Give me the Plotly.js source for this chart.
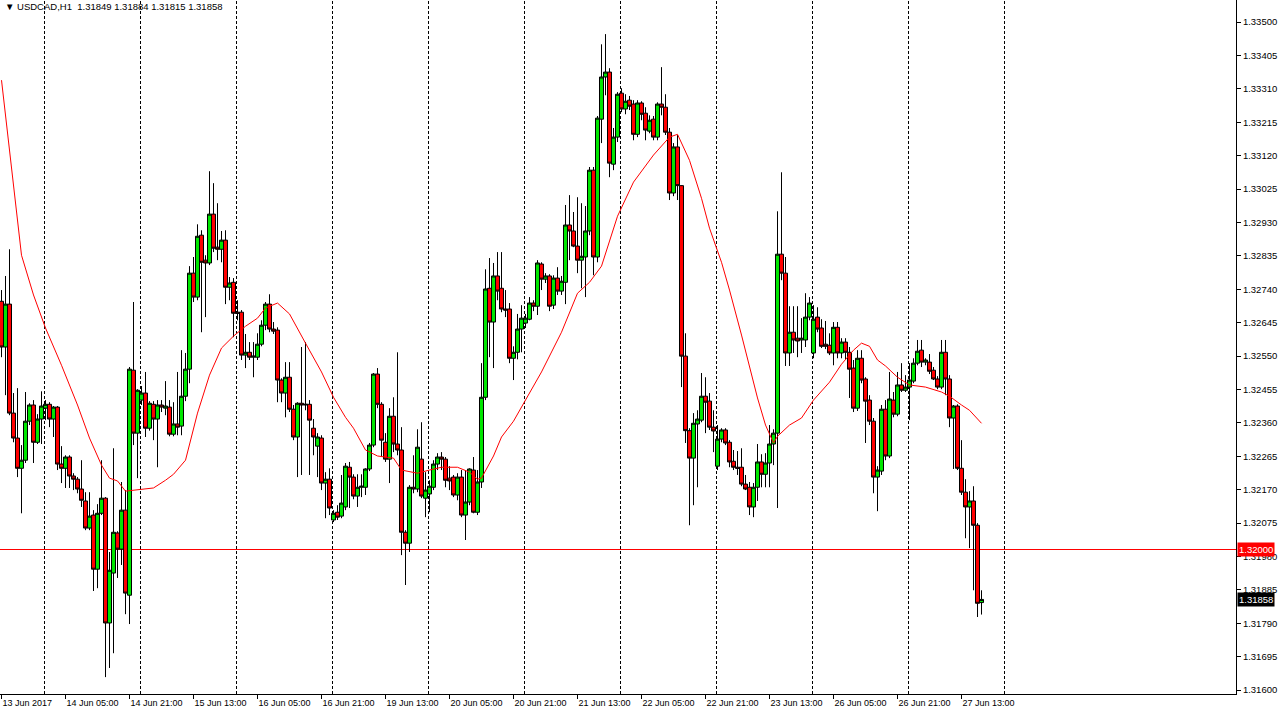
<!DOCTYPE html>
<html>
<head>
<meta charset="utf-8">
<script src="https://cdn.plot.ly/plotly-3.0.1.min.js"></script>
<style>html,body{margin:0;padding:0;background:#fff;}#chart{width:1278px;height:716px;}</style>
</head>
<body>
<div id="chart"></div>
<script>
// USDCAD H1 candles, 13 Jun 2017 13:00 .. 27 Jun 2017
const symbol = "USDCAD,H1";
const opens = [1.32706,1.32576,1.32698,1.32388,1.32317,1.32231,1.32254,1.32365,1.32411,1.32305,1.32371,1.32402,1.32413,1.32371,1.32405,1.32243,1.32231,1.32263,1.32209,1.32200,1.32172,1.32138,1.32061,1.32098,1.31944,1.32103,1.32146,1.31791,1.31933,1.32047,1.32001,1.32112,1.31870,1.32510,1.32331,1.32425,1.32445,1.32345,1.32413,1.32371,1.32411,1.32402,1.32405,1.32328,1.32357,1.32351,1.32436,1.32513,1.32786,1.32718,1.32894,1.32823,1.32815,1.32954,1.32860,1.32854,1.32880,1.32746,1.32760,1.32675,1.32675,1.32553,1.32561,1.32547,1.32547,1.32584,1.32638,1.32698,1.32627,1.32624,1.32482,1.32445,1.32490,1.32399,1.32320,1.32416,1.32411,1.32413,1.32345,1.32294,1.32317,1.32189,1.32200,1.32084,1.32106,1.32095,1.32121,1.32234,1.32206,1.32152,1.32177,1.32177,1.32229,1.32297,1.32499,1.32413,1.32305,1.32257,1.32379,1.32300,1.32283,1.32049,1.32018,1.32177,1.32172,1.32257,1.32146,1.32158,1.32177,1.32243,1.32263,1.32257,1.32203,1.32206,1.32155,1.32206,1.32098,1.32135,1.32226,1.32106,1.32192,1.32433,1.32743,1.32647,1.32778,1.32743,1.32684,1.32684,1.32544,1.32561,1.32627,1.32644,1.32655,1.32701,1.32692,1.32812,1.32769,1.32778,1.32695,1.32772,1.32735,1.32760,1.32923,1.32906,1.32863,1.32823,1.32832,1.32906,1.33079,1.32832,1.33224,1.33344,1.33358,1.33096,1.33173,1.33298,1.33253,1.33278,1.33267,1.33181,1.33270,1.33241,1.33190,1.33224,1.33173,1.33267,1.33258,1.33187,1.33014,1.33145,1.33035,1.32550,1.32338,1.32260,1.32357,1.32368,1.32436,1.32422,1.32348,1.32237,1.32314,1.32340,1.32305,1.32251,1.32234,1.32234,1.32186,1.32177,1.32121,1.32177,1.32249,1.32214,1.32246,1.32300,1.32331,1.32840,1.32786,1.32559,1.32618,1.32601,1.32596,1.32596,1.32661,1.32559,1.32661,1.32630,1.32584,1.32581,1.32559,1.32632,1.32559,1.32590,1.32561,1.32516,1.32402,1.32544,1.32485,1.32425,1.32365,1.32206,1.32223,1.32399,1.32266,1.32425,1.32385,1.32468,1.32453,1.32462,1.32479,1.32530,1.32567,1.32533,1.32533,1.32510,1.32485,1.32462,1.32561,1.32485,1.32374,1.32408,1.32231,1.32163,1.32121,1.32138,1.32069,1.31849];
const highs = [1.32738,1.32778,1.32854,1.32445,1.32459,1.32297,1.32448,1.32416,1.32425,1.32385,1.32450,1.32425,1.32419,1.32408,1.32408,1.32294,1.32268,1.32268,1.32217,1.32206,1.32254,1.32163,1.32163,1.32112,1.32129,1.32254,1.32149,1.31993,1.32288,1.32052,1.32192,1.32169,1.32519,1.32704,1.32456,1.32465,1.32505,1.32422,1.32422,1.32425,1.32425,1.32479,1.32425,1.32419,1.32505,1.32567,1.32559,1.32806,1.32832,1.32925,1.32908,1.32837,1.33076,1.33042,1.32985,1.32906,1.32908,1.32775,1.32772,1.32709,1.32681,1.32613,1.32590,1.32590,1.32615,1.32652,1.32704,1.32726,1.32647,1.32632,1.32487,1.32533,1.32533,1.32411,1.32419,1.32576,1.32590,1.32425,1.32371,1.32331,1.32325,1.32220,1.32231,1.32112,1.32126,1.32212,1.32246,1.32249,1.32214,1.32214,1.32214,1.32231,1.32303,1.32502,1.32516,1.32419,1.32331,1.32402,1.32433,1.32561,1.32348,1.32055,1.32183,1.32268,1.32342,1.32362,1.32220,1.32197,1.32254,1.32274,1.32277,1.32263,1.32237,1.32212,1.32217,1.32226,1.32226,1.32231,1.32263,1.32226,1.32530,1.32797,1.32829,1.32815,1.32846,1.32846,1.32738,1.32701,1.32578,1.32670,1.32695,1.32670,1.32718,1.32709,1.32823,1.32817,1.32786,1.32783,1.32780,1.32803,1.32778,1.32980,1.33008,1.32960,1.33002,1.32985,1.32977,1.33088,1.33088,1.33233,1.33437,1.33466,1.33369,1.33199,1.33301,1.33312,1.33295,1.33290,1.33278,1.33278,1.33275,1.33258,1.33235,1.33233,1.33272,1.33372,1.33295,1.33199,1.33156,1.33179,1.33036,1.32615,1.32345,1.32388,1.32396,1.32502,1.32490,1.32445,1.32396,1.32354,1.32345,1.32345,1.32311,1.32283,1.32280,1.32288,1.32212,1.32192,1.32189,1.32300,1.32271,1.32274,1.32354,1.32342,1.32962,1.33073,1.32832,1.32692,1.32692,1.32692,1.32658,1.32729,1.32718,1.32695,1.32689,1.32655,1.32650,1.32615,1.32647,1.32647,1.32601,1.32601,1.32576,1.32539,1.32567,1.32567,1.32490,1.32439,1.32374,1.32237,1.32411,1.32425,1.32505,1.32448,1.32505,1.32530,1.32496,1.32530,1.32544,1.32596,1.32596,1.32544,1.32556,1.32519,1.32493,1.32596,1.32596,1.32496,1.32411,1.32413,1.32311,1.32200,1.32166,1.32180,1.32075,1.31884];
const lows = [1.32547,1.32439,1.32382,1.32305,1.32206,1.32103,1.32246,1.32354,1.32246,1.32300,1.32300,1.32368,1.32348,1.32320,1.32226,1.32189,1.32175,1.32175,1.32169,1.32160,1.32121,1.32055,1.32055,1.31882,1.31890,1.32098,1.31637,1.31663,1.31705,1.31919,1.31956,1.31816,1.31788,1.32297,1.32203,1.32411,1.32320,1.32338,1.32311,1.32234,1.32391,1.32382,1.32322,1.32322,1.32325,1.32325,1.32422,1.32473,1.32704,1.32709,1.32618,1.32661,1.32809,1.32846,1.32823,1.32817,1.32698,1.32709,1.32604,1.32652,1.32539,1.32516,1.32539,1.32490,1.32539,1.32578,1.32624,1.32618,1.32613,1.32419,1.32419,1.32376,1.32391,1.32311,1.32206,1.32212,1.32396,1.32212,1.32268,1.32206,1.32169,1.32089,1.32098,1.32078,1.32084,1.32089,1.32112,1.32118,1.32143,1.32121,1.32149,1.32155,1.32223,1.32291,1.32402,1.32263,1.32249,1.32189,1.32277,1.32268,1.31984,1.31899,1.31993,1.32160,1.32163,1.32146,1.32092,1.32106,1.32169,1.32226,1.32226,1.32177,1.32169,1.32149,1.32140,1.32092,1.32027,1.32126,1.32103,1.32098,1.32175,1.32425,1.32547,1.32516,1.32709,1.32675,1.32661,1.32530,1.32482,1.32541,1.32561,1.32630,1.32652,1.32678,1.32667,1.32738,1.32758,1.32678,1.32684,1.32724,1.32724,1.32698,1.32823,1.32860,1.32786,1.32743,1.32718,1.32894,1.32780,1.32817,1.33156,1.33292,1.33059,1.33079,1.33159,1.33244,1.33238,1.33250,1.33164,1.33173,1.33221,1.33164,1.33184,1.33164,1.33164,1.33235,1.33179,1.32994,1.33005,1.32994,1.32462,1.32303,1.32069,1.32126,1.32177,1.32362,1.32331,1.32340,1.32277,1.32226,1.32305,1.32297,1.32234,1.32226,1.32212,1.32180,1.32169,1.32098,1.32092,1.32138,1.32177,1.32177,1.32177,1.32240,1.32118,1.32766,1.32522,1.32522,1.32559,1.32547,1.32559,1.32576,1.32652,1.32544,1.32618,1.32573,1.32570,1.32553,1.32524,1.32544,1.32544,1.32539,1.32431,1.32391,1.32394,1.32473,1.32303,1.32354,1.32160,1.32109,1.32212,1.32254,1.32260,1.32376,1.32379,1.32448,1.32448,1.32368,1.32473,1.32524,1.32519,1.32524,1.32499,1.32482,1.32456,1.32456,1.32439,1.32348,1.32229,1.32226,1.32155,1.32032,1.32004,1.31884,1.31808,1.31815];
const closes = [1.32576,1.32698,1.32388,1.32317,1.32231,1.32254,1.32365,1.32411,1.32305,1.32371,1.32408,1.32413,1.32371,1.32405,1.32243,1.32231,1.32263,1.32209,1.32200,1.32172,1.32140,1.32061,1.32095,1.31944,1.32103,1.32146,1.31791,1.31941,1.32049,1.32001,1.32112,1.31876,1.32513,1.32331,1.32453,1.32445,1.32345,1.32416,1.32371,1.32411,1.32405,1.32408,1.32328,1.32357,1.32348,1.32436,1.32513,1.32786,1.32718,1.32891,1.32817,1.32815,1.32954,1.32857,1.32854,1.32880,1.32746,1.32758,1.32672,1.32672,1.32553,1.32561,1.32547,1.32550,1.32584,1.32638,1.32698,1.32627,1.32621,1.32482,1.32445,1.32490,1.32399,1.32320,1.32416,1.32411,1.32413,1.32368,1.32320,1.32320,1.32189,1.32200,1.32118,1.32103,1.32092,1.32132,1.32237,1.32206,1.32152,1.32177,1.32180,1.32229,1.32297,1.32499,1.32413,1.32311,1.32257,1.32379,1.32300,1.32283,1.32049,1.32018,1.32177,1.32172,1.32291,1.32152,1.32169,1.32180,1.32243,1.32263,1.32257,1.32197,1.32195,1.32155,1.32206,1.32098,1.32135,1.32229,1.32106,1.32192,1.32433,1.32741,1.32647,1.32778,1.32735,1.32684,1.32681,1.32544,1.32561,1.32627,1.32658,1.32658,1.32701,1.32692,1.32815,1.32769,1.32778,1.32692,1.32772,1.32735,1.32763,1.32923,1.32906,1.32863,1.32823,1.32834,1.32906,1.33079,1.32832,1.33227,1.33344,1.33358,1.33099,1.33173,1.33295,1.33253,1.33275,1.33261,1.33181,1.33270,1.33238,1.33193,1.33221,1.33173,1.33267,1.33258,1.33187,1.33014,1.33145,1.33035,1.32550,1.32338,1.32260,1.32359,1.32371,1.32436,1.32419,1.32348,1.32337,1.32314,1.32340,1.32303,1.32249,1.32234,1.32231,1.32186,1.32172,1.32121,1.32177,1.32249,1.32214,1.32246,1.32300,1.32331,1.32840,1.32786,1.32559,1.32618,1.32596,1.32593,1.32601,1.32661,1.32701,1.32655,1.32627,1.32578,1.32578,1.32559,1.32632,1.32559,1.32590,1.32561,1.32513,1.32402,1.32544,1.32482,1.32422,1.32365,1.32206,1.32226,1.32399,1.32266,1.32428,1.32385,1.32468,1.32453,1.32462,1.32482,1.32530,1.32564,1.32533,1.32539,1.32507,1.32485,1.32462,1.32561,1.32485,1.32374,1.32408,1.32231,1.32163,1.32121,1.32138,1.32069,1.31847,1.31858];

// moving average line (at selected bars)
const maBars = [0,5,8,11,15,19,22,25,27,29,31,34,38,41,43,46,49,52,55,58,61,64,66,69,72,76,80,83,86,88,91,94,98,100,104,107,110,114,117,119,120,123,125,128,130,135,140,144,147,150,154,158,163,167,169,172,175,177,180,182,185,187,189,191,193,194,197,200,203,207,210,213,215,217,219,221,224,227,231,235,237,240,242,245];
const maValues = [1.33335,1.32837,1.32724,1.32630,1.32524,1.32411,1.32317,1.32240,1.32203,1.32195,1.32166,1.32169,1.32175,1.32197,1.32214,1.32254,1.32388,1.32496,1.32573,1.32607,1.32635,1.32658,1.32687,1.32701,1.32670,1.32587,1.32505,1.32433,1.32376,1.32345,1.32283,1.32266,1.32260,1.32226,1.32217,1.32226,1.32234,1.32234,1.32220,1.32200,1.32203,1.32266,1.32320,1.32365,1.32405,1.32505,1.32618,1.32729,1.32760,1.32806,1.32948,1.33045,1.33122,1.33173,1.33181,1.33107,1.32999,1.32914,1.32817,1.32738,1.32610,1.32524,1.32431,1.32354,1.32303,1.32322,1.32354,1.32374,1.32425,1.32476,1.32527,1.32567,1.32587,1.32578,1.32539,1.32522,1.32490,1.32468,1.32462,1.32448,1.32436,1.32411,1.32396,1.32359];

// axis ticks
const timeTickBars = [0,16,32,48,64,80,96,112,128,144,160,176,192,208,224,240];
const timeTickLabels = ['13 Jun 2017','14 Jun 05:00','14 Jun 21:00','15 Jun 13:00','16 Jun 05:00','16 Jun 21:00','19 Jun 13:00','20 Jun 05:00','20 Jun 21:00','21 Jun 13:00','22 Jun 05:00','22 Jun 21:00','23 Jun 13:00','26 Jun 05:00','26 Jun 21:00','27 Jun 13:00'];
const dayStartBars = [11,35,59,83,107,131,155,179,203,227,251];
const priceTicks = [1.31600,1.31695,1.31790,1.31885,1.31980,1.32075,1.32170,1.32265,1.32360,1.32455,1.32550,1.32645,1.32740,1.32835,1.32930,1.33025,1.33120,1.33215,1.33310,1.33405,1.33500];
const levelPrice = 1.32000;

const bullColor = '#00e600';
const bearColor = '#ff0000';
const FONT = 'Liberation Sans, Arial, sans-serif';

const bars = opens.map((_, i) => i);
const last = opens.length - 1;

const traces = [
  {
    type: 'candlestick', x: bars, open: opens, high: highs, low: lows, close: closes,
    increasing: {line: {color: '#000000', width: 1}, fillcolor: bullColor},
    decreasing: {line: {color: '#000000', width: 1}, fillcolor: bearColor},
    whiskerwidth: 0, hoverinfo: 'skip', showlegend: false
  },
  {
    type: 'scatter', mode: 'lines', x: maBars, y: maValues,
    line: {color: '#ff0000', width: 1}, hoverinfo: 'skip', showlegend: false
  }
];

const shapes = dayStartBars.map(b => ({
  type: 'line', xref: 'x', yref: 'paper', x0: b - 0.25, x1: b - 0.25, y0: 0, y1: 1,
  line: {color: '#000000', width: 1, dash: '3px,2px'}, layer: 'below'
}));
shapes.push({
  type: 'line', xref: 'paper', yref: 'y', x0: 0, x1: 1, y0: levelPrice, y1: levelPrice,
  line: {color: '#ff0000', width: 1}, layer: 'below'
});

const fmt = v => v.toFixed(5);
const header = '▼ ' + symbol + '\u00a0\u00a0' + [opens[last], highs[last], lows[last], closes[last]].map(fmt).join(' ');

const annotations = [
  {xref: 'paper', yref: 'paper', x: 0, y: 1, xanchor: 'left', yanchor: 'top', xshift: 3, yshift: 1,
   text: header, showarrow: false, font: {family: FONT, size: 9.5, color: '#000'}},
  {xref: 'paper', yref: 'y', x: 1, y: levelPrice, xanchor: 'left', yanchor: 'middle', xshift: 1,
   text: fmt(levelPrice), showarrow: false, bgcolor: '#ff0000', borderpad: 1,
   font: {family: FONT, size: 9.5, color: '#ffffff'}},
  {xref: 'paper', yref: 'y', x: 1, y: closes[last], xanchor: 'left', yanchor: 'middle', xshift: 1,
   text: fmt(closes[last]), showarrow: false, bgcolor: '#000000', borderpad: 1,
   font: {family: FONT, size: 9.5, color: '#ffffff'}}
];

const layout = {
  width: 1278, height: 716,
  margin: {l: 0, r: 42, t: 0, b: 22, pad: 0},
  paper_bgcolor: '#ffffff', plot_bgcolor: '#ffffff',
  showlegend: false, boxgap: 0, boxgroupgap: 0,
  xaxis: {
    range: [-0.375, 308.625], tickmode: 'array', tickvals: timeTickBars, ticktext: timeTickLabels,
    ticks: 'outside', ticklen: 4, tickcolor: '#000', showgrid: false, zeroline: false,
    showline: true, linecolor: '#000', linewidth: 1, mirror: true, tickangle: 0,
    rangeslider: {visible: false}, ticklabelposition: 'outside right',
    tickfont: {family: FONT, size: 9, color: '#000'}, fixedrange: true
  },
  yaxis: {
    side: 'right', range: [1.31589, 1.33563], tickmode: 'array', tickvals: priceTicks, tickformat: '.5f',
    ticks: 'outside', ticklen: 4, tickcolor: '#000', showgrid: false, zeroline: false,
    showline: true, linecolor: '#000', linewidth: 1, mirror: true,
    tickfont: {family: FONT, size: 9.5, color: '#000'}, fixedrange: true
  },
  shapes: shapes,
  annotations: annotations
};

Plotly.newPlot('chart', traces, layout, {displayModeBar: false, staticPlot: true});
</script>
</body>
</html>
